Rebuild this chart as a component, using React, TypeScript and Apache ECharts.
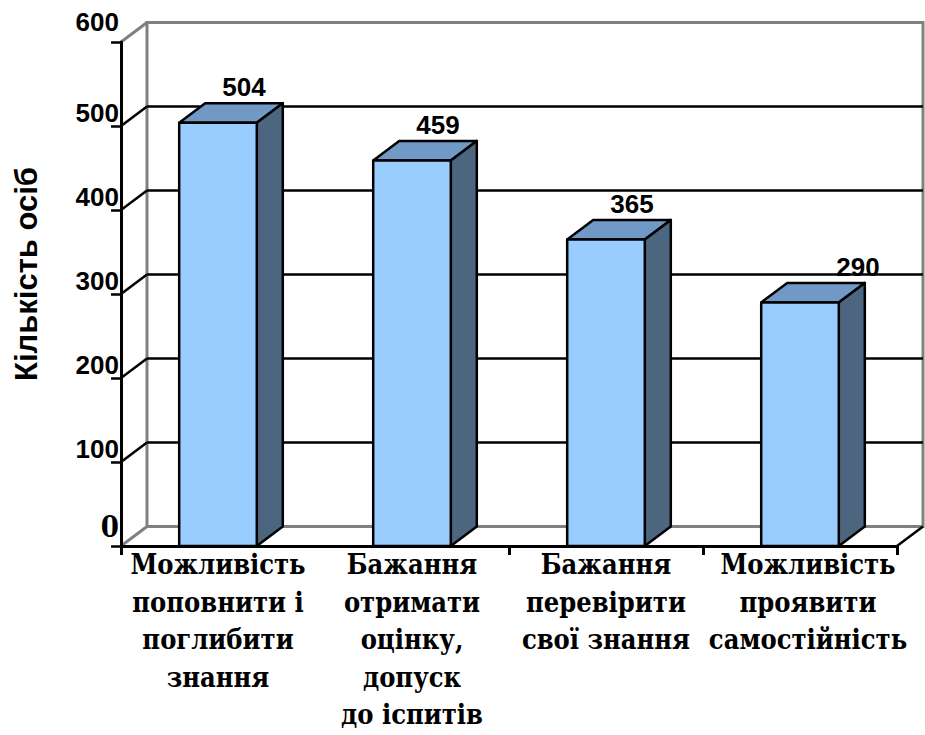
import React, { useEffect, useRef } from "react";
import * as echarts from "echarts";

const categories = [
  "Можливість\nпоповнити і\nпоглибити\nзнання",
  "Бажання\nотримати\nоцінку,\nдопуск\nдо іспитів",
  "Бажання\nперевірити\nсвої знання",
  "Можливість\nпроявити\nсамостійність",
];
const values = [504, 459, 365, 290];
const yTicks = [0, 100, 200, 300, 400, 500, 600];
const yAxisName = "Кількість осіб";

const DX = 26;
const DY = -19.5;
const FRONT = "#99CCFF";
const TOP = "#7099C6";
const SIDE = "#4D6680";
const GREY = "#808080";
const SANS = "Liberation Sans";
const SERIF = "DejaVu Serif Condensed";
const LAST_LABEL_SHIFT = 32;
const CAT_FONT = { fontFamily: SERIF, fontWeight: "bold", fontSize: 27, lineHeight: 37.5, color: "#000" };

export default function App() {
  const ref = useRef<HTMLDivElement>(null);
  useEffect(() => {
    const chart = echarts.init(ref.current!, null, { renderer: "svg" });
    const option: any = {
      animation: false,
      backgroundColor: "#ffffff",
      grid: [
        { left: 121, top: 42, width: 776, height: 504, containLabel: false, outerBoundsMode: "none" },
        {
          left: 121 + DX,
          top: 42 + DY,
          width: 776,
          height: 504,
          containLabel: false,
          outerBoundsMode: "none",
          show: true,
          borderColor: GREY,
          borderWidth: 3,
          backgroundColor: "transparent",
        },
      ],
      xAxis: [
        {
          type: "category",
          gridIndex: 0,
          data: categories,
          boundaryGap: true,
          z: 5,
          axisLine: { show: true, lineStyle: { color: "#000", width: 3 } },
          axisTick: { show: true, interval: 1, length: 9, lineStyle: { color: "#000", width: 3 } },
          axisLabel: {
            interval: 0,
            margin: 0,
            ...CAT_FONT,
            formatter: (v: string, i: number) =>
              i === categories.length - 1 ? `{r|${v}}` : `{c|${v}}`,
            rich: {
              c: { ...CAT_FONT },
              r: { ...CAT_FONT, padding: [0, 0, 0, 16] },
            },
          },
        },
        { type: "category", gridIndex: 1, data: categories, show: false },
      ],
      yAxis: [
        {
          type: "value",
          gridIndex: 0,
          min: 0,
          max: 600,
          interval: 100,
          z: 5,
          axisLine: { show: true, lineStyle: { color: "#000", width: 3 } },
          axisTick: { show: true, length: 10, lineStyle: { color: "#000", width: 2.5 } },
          splitLine: { show: false },
          axisLabel: {
            margin: 2,
            formatter: (v: number) =>
              v === 0 ? `{z|${v}}` : v === 600 ? `{t|${v}}` : `{m|${v}}`,
            rich: {
              t: { fontFamily: SANS, fontWeight: "bold", fontSize: 26, color: "#000", padding: [0, 0, 40, 0] },
              m: { fontFamily: SANS, fontWeight: "bold", fontSize: 26, color: "#000", padding: [0, 0, 26, 0] },
              z: { fontFamily: SERIF, fontWeight: "bold", fontSize: 29, color: "#000", padding: [0, 0, 38, 0] },
            },
          },
        },
        {
          type: "value",
          gridIndex: 1,
          min: 0,
          max: 600,
          interval: 100,
          axisLine: { show: false },
          axisTick: { show: false },
          axisLabel: { show: false },
          splitLine: {
            show: true,
            lineStyle: { color: [GREY, "#000", "#000", "#000", "#000", "#000", GREY], width: 2.5 },
          },
        },
      ],
      graphic: [
        {
          type: "text",
          x: 26,
          y: 274,
          rotation: Math.PI / 2,
          style: {
            text: yAxisName,
            fontFamily: SANS,
            fontWeight: "bold",
            fontSize: 31,
            fill: "#000",
            textAlign: "center",
            textVerticalAlign: "middle",
          },
        },
      ],
      series: [
        {
          type: "custom",
          xAxisIndex: 0,
          yAxisIndex: 0,
          z: 1,
          clip: false,
          silent: true,
          data: yTicks.map((v) => [0, v]),
          encode: { x: 0, y: 1 },
          renderItem: (params: any, api: any) => {
            const cs = params.coordSys;
            const v = api.value(1);
            const y = api.coord([0, v])[1];
            const edge = v === 0 || v === 600;
            const children: any[] = [
              {
                type: "line",
                shape: { x1: cs.x, y1: y, x2: cs.x + DX, y2: y + DY },
                style: { stroke: edge ? GREY : "#000", lineWidth: edge ? 3 : 2.5 },
              },
            ];
            if (v === 0) {
              children.push({
                type: "line",
                shape: { x1: cs.x + cs.width, y1: y, x2: cs.x + cs.width + DX, y2: y + DY },
                style: { stroke: "#000", lineWidth: 2.5 },
              });
            }
            return { type: "group", children };
          },
        },
        {
          type: "custom",
          xAxisIndex: 0,
          yAxisIndex: 0,
          z: 3,
          clip: false,
          data: values.map((v, i) => [i, v]),
          encode: { x: 0, y: 1 },
          renderItem: (params: any, api: any) => {
            const idx = api.value(0);
            const v = api.value(1);
            const top = api.coord([idx, v]);
            const base = api.coord([idx, 0]);
            const w = api.size([1, 0])[0] * 0.4;
            const l = top[0] - w / 2;
            const r = top[0] + w / 2;
            const yt = top[1];
            const yb = base[1];
            const stroke = { stroke: "#000", lineWidth: 2.5, lineJoin: "round" };
            const shift = idx === values.length - 1 ? LAST_LABEL_SHIFT : 0;
            return {
              type: "group",
              children: [
                {
                  type: "polygon",
                  shape: { points: [[l, yt], [l + DX, yt + DY], [r + DX, yt + DY], [r, yt]] },
                  style: { fill: TOP, ...stroke },
                },
                {
                  type: "polygon",
                  shape: { points: [[r, yt], [r + DX, yt + DY], [r + DX, yb + DY], [r, yb]] },
                  style: { fill: SIDE, ...stroke },
                },
                {
                  type: "rect",
                  shape: { x: l, y: yt, width: w, height: yb - yt },
                  style: { fill: FRONT, ...stroke },
                },
                {
                  type: "text",
                  x: top[0] + DX + shift,
                  y: yt + DY - 16,
                  style: {
                    text: String(v),
                    fontFamily: SANS,
                    fontWeight: "bold",
                    fontSize: 26,
                    fill: "#000",
                    textAlign: "center",
                    textVerticalAlign: "middle",
                  },
                },
              ],
            };
          },
        },
      ],
    };
    chart.setOption(option);
    return () => chart.dispose();
  }, []);
  return (
    <div
      ref={ref}
      style={{ position: "fixed", left: 0, top: 0, width: 925, height: 735, background: "#fff" }}
    />
  );
}
